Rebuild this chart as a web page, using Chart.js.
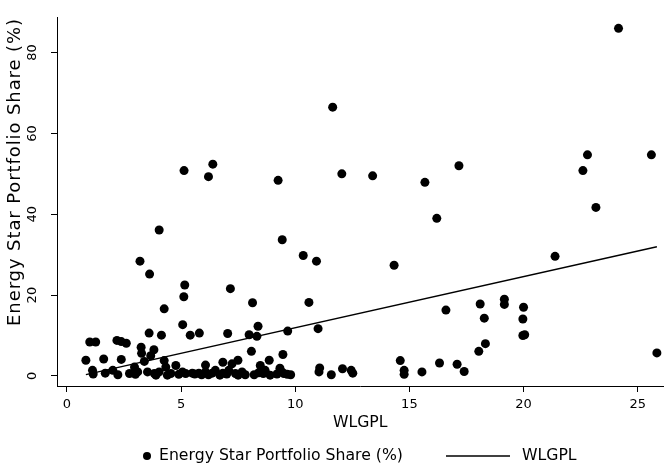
<!DOCTYPE html>
<html>
<head>
<meta charset="utf-8">
<script src="https://cdn.jsdelivr.net/npm/chart.js@4"></script>
<style>
html, body { margin: 0; padding: 0; background: #fff; }
</style>
</head>
<body>
<canvas id="myChart" width="668" height="475"></canvas>
<script>
// scatter values
var xVals = [24.16, 11.64, 22.8, 25.6, 17.17, 6.39, 5.13, 22.6, 12.04, 13.39, 6.2, 9.25, 15.68,
  23.17, 16.2, 4.04, 9.43, 10.35, 21.38, 3.2, 10.93, 14.33, 3.62, 5.16, 7.16, 5.12, 19.16,
  8.13, 10.6, 18.1, 19.16, 20.0, 4.26, 16.6, 18.28, 19.97, 5.07, 8.37, 11.0, 9.67, 5.8, 3.6,
  7.04, 7.98, 4.14, 5.4, 8.32, 19.97, 20.05, 1.0, 1.26, 2.19, 2.38, 2.6, 18.33, 3.25, 3.81,
  8.08, 18.04, 25.84, 3.27, 3.67, 9.46, 1.61, 2.38, 0.83, 7.49, 8.86, 4.26, 14.6, 3.39, 6.83,
  16.32, 7.23, 17.09, 6.07, 4.77, 8.47, 2.96, 4.33, 11.07, 9.33, 12.07, 1.12, 2.01, 6.5, 7.09,
  8.68, 12.45, 14.77, 17.4, 3.1, 3.53, 4.04, 5.06, 6.07, 7.67, 9.41, 11.04, 15.55, 1.68, 5.49,
  5.78, 6.36, 6.83, 12.52, 1.15, 2.74, 3.83, 4.55, 5.2, 7.38, 8.6, 2.23, 7.81, 8.2, 11.58,
  9.65, 14.77, 4.4, 5.9, 6.7, 7.5, 8.9, 9.2, 9.8, 3.9, 4.9, 6.2, 7.0, 8.4, 9.5, 5.6, 3.0];
var yVals = [86.0, 66.5, 54.7, 54.7, 52.0, 52.4, 50.8, 50.8, 50.0, 49.5, 49.3, 48.4, 47.9,
  41.7, 39.0, 36.1, 33.7, 29.8, 29.6, 28.4, 28.4, 27.4, 25.2, 22.5, 21.6, 19.6, 19.0,
  18.1, 18.2, 17.8, 17.7, 17.0, 16.6, 16.3, 14.3, 14.1, 12.7, 12.3, 11.7, 11.1, 10.6, 10.6,
  10.5, 10.2, 10.1, 10.1, 9.8, 10.0, 10.2, 8.4, 8.4, 8.8, 8.5, 8.1, 8.0, 7.1, 6.5,
  6.1, 6.1, 5.7, 5.6, 5.0, 5.3, 4.2, 4.1, 3.9, 3.9, 3.9, 3.8, 3.8, 3.6, 3.4,
  3.2, 3.0, 2.9, 2.7, 2.6, 2.6, 2.2, 2.2, 2.0, 1.9, 1.8, 1.4, 1.4, 1.4, 1.4,
  1.4, 1.4, 1.4, 1.1, 1.0, 1.0, 1.0, 1.0, 1.0, 1.0, 1.0, 1.0, 1.0, 0.7, 0.7,
  0.7, 0.7, 0.7, 0.7, 0.5, 0.6, 0.6, 0.6, 0.6, 0.6, 0.6, 0.3, 0.3, 0.3, 0.3,
  0.4, 0.4, 0.2, 0.3, 0.2, 0.2, 0.2, 0.5, 0.3, 0.2, 0.4, 0.3, 0.5, 0.8, 0.6, 0.5, 0.4];

// fitted line end points
var fitX = [0.83, 25.84];
var fitY = [0.35, 31.96];

var xTicks = [0, 5, 10, 15, 20, 25];
var yTicks = [0, 20, 40, 60, 80];

var seriesLabel = 'Energy Star Portfolio Share (%)';
var fitLabel = 'WLGPL';
var xTitle = 'WLGPL';
var yTitle = 'Energy Star Portfolio Share (%)';

var FONT = 'DejaVu Sans';

function toPoints(xs, ys) {
    var out = [];
    for (var i = 0; i < xs.length; i++) out.push({x: xs[i], y: ys[i]});
    return out;
}

// legend + stretched y title drawn by hand (Stata style)
var extras = {
    id: 'extras',
    afterDraw: function(chart) {
        var c = chart.ctx;
        c.save();
        c.fillStyle = '#000';
        c.strokeStyle = '#000';
        c.font = '15.7px "' + FONT + '"';
        c.textBaseline = 'middle';
        var ly = 456;
        c.beginPath();
        c.arc(147, ly, 4, 0, Math.PI * 2);
        c.fill();
        c.textAlign = 'left';
        c.fillText(chart.data.datasets[0].label, 159, ly);
        c.lineWidth = 1.4;
        c.beginPath();
        c.moveTo(446, ly);
        c.lineTo(510, ly);
        c.stroke();
        c.fillText(chart.data.datasets[1].label, 522, ly);

        c.translate(15, 172);
        c.rotate(-Math.PI / 2);
        c.font = '18px "' + FONT + '"';
        c.letterSpacing = '0.9px';
        c.textAlign = 'center';
        c.fillText(yTitle, 0, 0);
        c.restore();
    }
};

var ctx = document.getElementById('myChart').getContext('2d');
var chart = new Chart(ctx, {
    type: 'scatter',
    data: {
        datasets: [{
            label: seriesLabel,
            data: toPoints(xVals, yVals),
            backgroundColor: '#000',
            borderWidth: 0,
            pointRadius: 4.5
        }, {
            type: 'line',
            label: fitLabel,
            data: toPoints(fitX, fitY),
            borderColor: '#000',
            borderWidth: 1.4,
            pointRadius: 0,
            fill: false
        }]
    },
    options: {
        responsive: false,
        animation: false,
        devicePixelRatio: 1,
        layout: { padding: { top: 8, right: 0, bottom: 0, left: 0 } },
        plugins: { legend: { display: false }, tooltip: { enabled: false } },
        scales: {
            x: {
                type: 'linear',
                min: -0.435,
                max: 26.13,
                afterBuildTicks: function(s) { s.ticks = xTicks.map(function(v) { return {value: v}; }); },
                afterFit: function(s) { s.height = 89; },
                grid: { drawOnChartArea: false, drawTicks: true, tickLength: 6, color: '#000' },
                border: { display: true, color: '#000', width: 1 },
                ticks: { color: '#000', font: { family: FONT, size: 13 }, padding: 5, maxRotation: 0, autoSkip: false },
                title: { display: true, text: xTitle, color: '#000', font: { family: FONT, size: 15.7 }, padding: { top: 0, bottom: 43 } }
            },
            y: {
                type: 'linear',
                min: -2.48,
                max: 88.6,
                afterBuildTicks: function(s) { s.ticks = yTicks.map(function(v) { return {value: v}; }); },
                afterFit: function(s) { s.width = 57; },
                grid: { drawOnChartArea: false, drawTicks: true, tickLength: 6, color: '#000' },
                border: { display: true, color: '#000', width: 1 },
                ticks: { color: '#000', font: { family: FONT, size: 13 }, padding: 10, minRotation: 90, maxRotation: 90, crossAlign: 'center', autoSkip: false },
                title: { display: false }
            }
        }
    },
    plugins: [extras]
});
</script>
</body>
</html>
